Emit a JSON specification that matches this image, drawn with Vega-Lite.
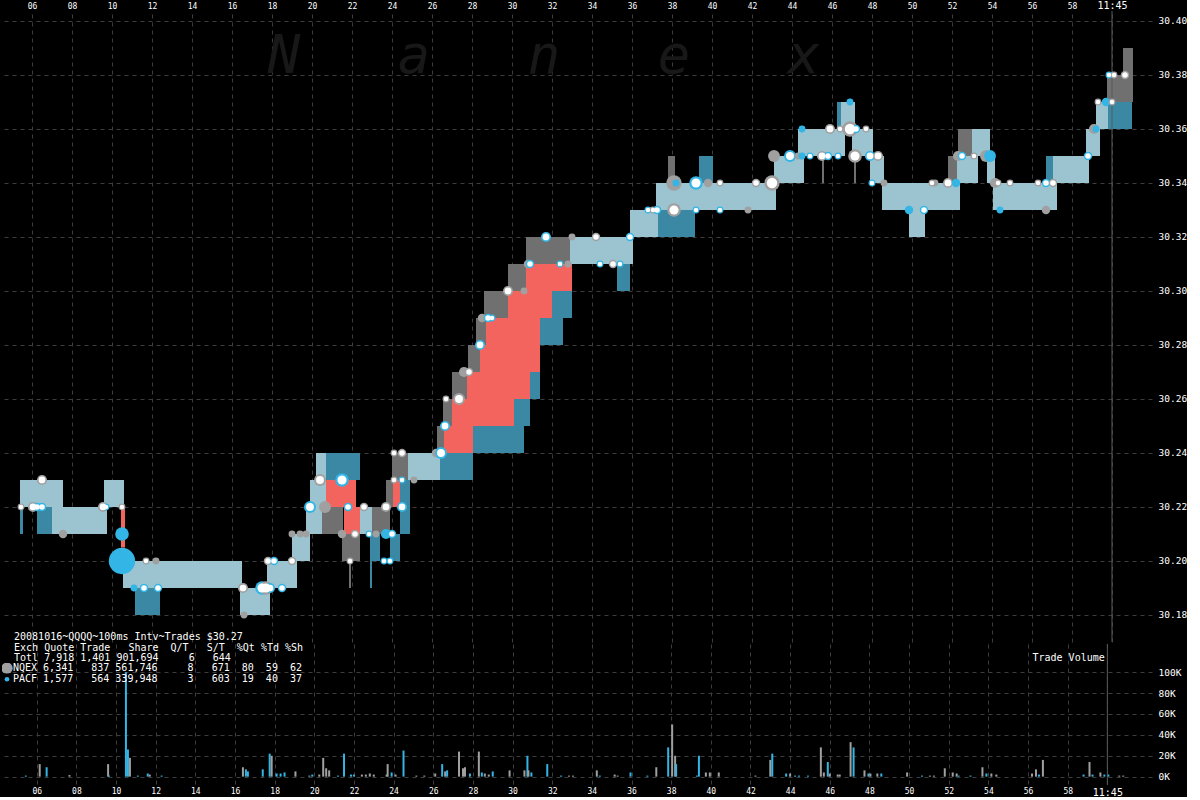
{
"$schema": "https://vega.github.io/schema/vega-lite/v6.json",
"background": "#000000",
"padding": 0,
"spacing": 0,
"config": {
 "view": {"stroke": null},
 "concat": {"spacing": 0},
 "axis": {"domain": false, "ticks": false, "tickSize": 0, "labelColor": "#ffffff", "labelFont": "DejaVu Sans Mono", "labelFontSize": 9, "gridColor": "#3d3d3d", "gridDash": [4, 4], "gridWidth": 1, "labelOverlap": false, "labelFlush": false},
 "legend": {"orient": "none", "legendX": 2, "legendY": 621, "padding": 0,
   "titleAnchor": "start", "titleFont": "DejaVu Sans Mono", "titleFontSize": 10, "titleFontWeight": "normal", "titleColor": "#ffffff",
   "titleLineHeight": 10.5, "titlePadding": 0, "titleLimit": 500,
   "labelFont": "DejaVu Sans Mono", "labelFontSize": 10, "labelColor": "#ffffff", "labelOffset": 1, "labelLimit": 500,
   "symbolType": "circle", "symbolSize": 110, "symbolStrokeWidth": 0, "clipHeight": 10.5, "rowPadding": 0}
},
"datasets": {
 "band": [
  {"t0":5.4,"t1":7.55,"lo":30.22,"hi":30.23,"k":"quote"},
  {"t0":5.4,"t1":5.55,"lo":30.21,"hi":30.22,"k":"flickB"},
  {"t0":6.25,"t1":7.0,"lo":30.21,"hi":30.22,"k":"flickB"},
  {"t0":7.0,"t1":9.75,"lo":30.21,"hi":30.22,"k":"quote"},
  {"t0":9.6,"t1":10.6,"lo":30.22,"hi":30.23,"k":"quote"},
  {"t0":10.45,"t1":10.65,"lo":30.205,"hi":30.22,"k":"crossed"},
  {"t0":10.55,"t1":16.5,"lo":30.19,"hi":30.20,"k":"quote"},
  {"t0":11.15,"t1":12.4,"lo":30.18,"hi":30.19,"k":"flickB"},
  {"t0":16.4,"t1":17.9,"lo":30.18,"hi":30.19,"k":"quote"},
  {"t0":17.75,"t1":19.25,"lo":30.19,"hi":30.20,"k":"quote"},
  {"t0":19.0,"t1":19.9,"lo":30.20,"hi":30.21,"k":"quote"},
  {"t0":19.7,"t1":20.5,"lo":30.21,"hi":30.22,"k":"quote"},
  {"t0":19.9,"t1":20.7,"lo":30.22,"hi":30.23,"k":"quote"},
  {"t0":20.2,"t1":20.7,"lo":30.23,"hi":30.24,"k":"quote"},
  {"t0":20.7,"t1":22.4,"lo":30.23,"hi":30.24,"k":"flickB"},
  {"t0":20.7,"t1":22.2,"lo":30.22,"hi":30.23,"k":"crossed"},
  {"t0":20.5,"t1":21.55,"lo":30.21,"hi":30.22,"k":"flickN"},
  {"t0":21.6,"t1":22.4,"lo":30.21,"hi":30.22,"k":"crossed"},
  {"t0":21.5,"t1":22.4,"lo":30.20,"hi":30.21,"k":"flickN"},
  {"t0":21.85,"t1":21.95,"lo":30.19,"hi":30.20,"k":"flickN"},
  {"t0":22.4,"t1":23.0,"lo":30.21,"hi":30.22,"k":"quote"},
  {"t0":23.0,"t1":23.9,"lo":30.21,"hi":30.22,"k":"flickN"},
  {"t0":22.9,"t1":23.4,"lo":30.20,"hi":30.21,"k":"flickB"},
  {"t0":22.9,"t1":23.0,"lo":30.19,"hi":30.20,"k":"flickB"},
  {"t0":23.7,"t1":24.05,"lo":30.22,"hi":30.23,"k":"flickN"},
  {"t0":24.05,"t1":24.4,"lo":30.22,"hi":30.23,"k":"crossed"},
  {"t0":24.4,"t1":24.9,"lo":30.21,"hi":30.23,"k":"flickB"},
  {"t0":23.9,"t1":24.4,"lo":30.20,"hi":30.21,"k":"flickB"},
  {"t0":24.0,"t1":24.8,"lo":30.23,"hi":30.24,"k":"flickN"},
  {"t0":24.8,"t1":26.4,"lo":30.23,"hi":30.24,"k":"quote"},
  {"t0":26.4,"t1":28.05,"lo":30.23,"hi":30.24,"k":"flickB"},
  {"t0":26.25,"t1":26.6,"lo":30.24,"hi":30.25,"k":"flickN"},
  {"t0":26.6,"t1":28.05,"lo":30.24,"hi":30.25,"k":"crossed"},
  {"t0":28.05,"t1":30.6,"lo":30.24,"hi":30.25,"k":"flickB"},
  {"t0":26.55,"t1":27.0,"lo":30.25,"hi":30.26,"k":"flickN"},
  {"t0":27.0,"t1":30.1,"lo":30.25,"hi":30.26,"k":"crossed"},
  {"t0":30.1,"t1":30.9,"lo":30.25,"hi":30.26,"k":"flickB"},
  {"t0":27.0,"t1":27.75,"lo":30.26,"hi":30.27,"k":"flickN"},
  {"t0":27.75,"t1":30.9,"lo":30.26,"hi":30.27,"k":"crossed"},
  {"t0":30.9,"t1":31.4,"lo":30.26,"hi":30.27,"k":"flickB"},
  {"t0":27.8,"t1":28.4,"lo":30.27,"hi":30.28,"k":"flickN"},
  {"t0":28.4,"t1":31.4,"lo":30.27,"hi":30.28,"k":"crossed"},
  {"t0":28.2,"t1":28.7,"lo":30.28,"hi":30.29,"k":"flickN"},
  {"t0":28.7,"t1":31.4,"lo":30.28,"hi":30.29,"k":"crossed"},
  {"t0":31.4,"t1":32.55,"lo":30.28,"hi":30.29,"k":"flickB"},
  {"t0":28.6,"t1":29.8,"lo":30.29,"hi":30.30,"k":"flickN"},
  {"t0":29.8,"t1":32.0,"lo":30.29,"hi":30.30,"k":"crossed"},
  {"t0":32.0,"t1":33.0,"lo":30.29,"hi":30.30,"k":"flickB"},
  {"t0":29.8,"t1":30.7,"lo":30.30,"hi":30.31,"k":"flickN"},
  {"t0":30.7,"t1":33.0,"lo":30.30,"hi":30.31,"k":"crossed"},
  {"t0":30.7,"t1":32.9,"lo":30.31,"hi":30.32,"k":"flickN"},
  {"t0":32.9,"t1":36.05,"lo":30.31,"hi":30.32,"k":"quote"},
  {"t0":35.25,"t1":35.9,"lo":30.30,"hi":30.31,"k":"flickB"},
  {"t0":35.9,"t1":37.3,"lo":30.32,"hi":30.33,"k":"quote"},
  {"t0":37.3,"t1":39.15,"lo":30.32,"hi":30.33,"k":"flickB"},
  {"t0":37.2,"t1":43.2,"lo":30.33,"hi":30.34,"k":"quote"},
  {"t0":37.8,"t1":38.15,"lo":30.34,"hi":30.35,"k":"flickN"},
  {"t0":39.35,"t1":40.05,"lo":30.34,"hi":30.35,"k":"flickB"},
  {"t0":43.1,"t1":44.6,"lo":30.34,"hi":30.35,"k":"quote"},
  {"t0":44.3,"t1":46.65,"lo":30.35,"hi":30.36,"k":"quote"},
  {"t0":45.5,"t1":45.6,"lo":30.34,"hi":30.35,"k":"flickN"},
  {"t0":46.25,"t1":46.45,"lo":30.36,"hi":30.37,"k":"flickB"},
  {"t0":46.45,"t1":47.15,"lo":30.36,"hi":30.37,"k":"quote"},
  {"t0":47.0,"t1":48.05,"lo":30.35,"hi":30.36,"k":"quote"},
  {"t0":47.1,"t1":47.2,"lo":30.34,"hi":30.35,"k":"flickN"},
  {"t0":47.9,"t1":48.6,"lo":30.34,"hi":30.35,"k":"quote"},
  {"t0":48.5,"t1":52.4,"lo":30.33,"hi":30.34,"k":"quote"},
  {"t0":49.85,"t1":50.65,"lo":30.32,"hi":30.33,"k":"quote"},
  {"t0":51.8,"t1":52.25,"lo":30.34,"hi":30.35,"k":"flickN"},
  {"t0":52.25,"t1":53.3,"lo":30.34,"hi":30.35,"k":"quote"},
  {"t0":52.3,"t1":53.0,"lo":30.35,"hi":30.36,"k":"flickN"},
  {"t0":53.0,"t1":53.9,"lo":30.35,"hi":30.36,"k":"quote"},
  {"t0":53.75,"t1":54.15,"lo":30.34,"hi":30.35,"k":"quote"},
  {"t0":54.05,"t1":57.25,"lo":30.33,"hi":30.34,"k":"quote"},
  {"t0":56.7,"t1":57.05,"lo":30.34,"hi":30.35,"k":"flickB"},
  {"t0":57.05,"t1":58.85,"lo":30.34,"hi":30.35,"k":"quote"},
  {"t0":58.7,"t1":59.4,"lo":30.35,"hi":30.36,"k":"quote"},
  {"t0":59.2,"t1":59.8,"lo":30.36,"hi":30.37,"k":"quote"},
  {"t0":59.8,"t1":61.0,"lo":30.36,"hi":30.37,"k":"flickB"},
  {"t0":59.75,"t1":61.05,"lo":30.37,"hi":30.38,"k":"flickN"},
  {"t0":60.55,"t1":61.05,"lo":30.38,"hi":30.39,"k":"flickN"}
 ],
 "trades": [
  {"t":10.5,"p":30.20,"ex":"PACF","sh":99000,"k":"solid"},
  {"t":5.45,"p":30.22,"ex":"NQEX","sh":2000,"k":"ring"},
  {"t":6.5,"p":30.23,"ex":"NQEX","sh":10300,"k":"ring"},
  {"t":6.05,"p":30.22,"ex":"NQEX","sh":10300,"k":"ring"},
  {"t":6.25,"p":30.22,"ex":"PACF","sh":5600,"k":"ring"},
  {"t":6.5,"p":30.22,"ex":"PACF","sh":5600,"k":"ring"},
  {"t":7.55,"p":30.21,"ex":"NQEX","sh":5600,"k":"solid"},
  {"t":9.55,"p":30.22,"ex":"NQEX","sh":10300,"k":"ring"},
  {"t":9.7,"p":30.22,"ex":"PACF","sh":2000,"k":"ring"},
  {"t":10.5,"p":30.22,"ex":"NQEX","sh":2000,"k":"ring"},
  {"t":10.5,"p":30.21,"ex":"PACF","sh":22800,"k":"solid"},
  {"t":11.7,"p":30.20,"ex":"NQEX","sh":2000,"k":"ring"},
  {"t":12.2,"p":30.20,"ex":"NQEX","sh":2000,"k":"solid"},
  {"t":11.1,"p":30.19,"ex":"PACF","sh":2000,"k":"solid"},
  {"t":11.6,"p":30.19,"ex":"PACF","sh":5600,"k":"ring"},
  {"t":12.3,"p":30.19,"ex":"PACF","sh":5600,"k":"ring"},
  {"t":16.55,"p":30.19,"ex":"NQEX","sh":10300,"k":"ring"},
  {"t":16.6,"p":30.18,"ex":"NQEX","sh":2000,"k":"solid"},
  {"t":17.5,"p":30.19,"ex":"PACF","sh":22800,"k":"ring"},
  {"t":17.7,"p":30.19,"ex":"NQEX","sh":22800,"k":"ring"},
  {"t":17.9,"p":30.19,"ex":"PACF","sh":10300,"k":"ring"},
  {"t":18.5,"p":30.19,"ex":"PACF","sh":5600,"k":"ring"},
  {"t":17.8,"p":30.20,"ex":"NQEX","sh":5600,"k":"ring"},
  {"t":18.1,"p":30.20,"ex":"PACF","sh":5600,"k":"ring"},
  {"t":19.0,"p":30.20,"ex":"NQEX","sh":5600,"k":"ring"},
  {"t":19.0,"p":30.21,"ex":"NQEX","sh":2000,"k":"solid"},
  {"t":19.4,"p":30.21,"ex":"NQEX","sh":2000,"k":"solid"},
  {"t":19.7,"p":30.21,"ex":"NQEX","sh":2000,"k":"solid"},
  {"t":19.9,"p":30.22,"ex":"PACF","sh":16000,"k":"ring"},
  {"t":20.4,"p":30.23,"ex":"NQEX","sh":16000,"k":"ring"},
  {"t":21.5,"p":30.23,"ex":"PACF","sh":22800,"k":"ring"},
  {"t":20.65,"p":30.22,"ex":"NQEX","sh":16000,"k":"solid"},
  {"t":21.8,"p":30.22,"ex":"PACF","sh":5600,"k":"ring"},
  {"t":22.6,"p":30.22,"ex":"NQEX","sh":5600,"k":"ring"},
  {"t":21.5,"p":30.21,"ex":"NQEX","sh":5600,"k":"solid"},
  {"t":22.15,"p":30.21,"ex":"NQEX","sh":5600,"k":"ring"},
  {"t":22.85,"p":30.21,"ex":"PACF","sh":2000,"k":"ring"},
  {"t":23.2,"p":30.21,"ex":"NQEX","sh":2000,"k":"solid"},
  {"t":21.9,"p":30.20,"ex":"NQEX","sh":2000,"k":"ring"},
  {"t":23.7,"p":30.21,"ex":"PACF","sh":10300,"k":"solid"},
  {"t":24.0,"p":30.21,"ex":"PACF","sh":5600,"k":"ring"},
  {"t":23.6,"p":30.20,"ex":"PACF","sh":2000,"k":"ring"},
  {"t":23.9,"p":30.20,"ex":"PACF","sh":2000,"k":"ring"},
  {"t":23.7,"p":30.22,"ex":"NQEX","sh":10300,"k":"ring"},
  {"t":24.5,"p":30.22,"ex":"PACF","sh":10300,"k":"ring"},
  {"t":24.1,"p":30.23,"ex":"NQEX","sh":2000,"k":"ring"},
  {"t":24.5,"p":30.23,"ex":"PACF","sh":2000,"k":"ring"},
  {"t":25.1,"p":30.23,"ex":"NQEX","sh":2000,"k":"solid"},
  {"t":24.1,"p":30.24,"ex":"NQEX","sh":2000,"k":"ring"},
  {"t":24.5,"p":30.24,"ex":"NQEX","sh":5600,"k":"ring"},
  {"t":26.2,"p":30.24,"ex":"NQEX","sh":5600,"k":"solid"},
  {"t":26.45,"p":30.24,"ex":"PACF","sh":16000,"k":"ring"},
  {"t":26.65,"p":30.25,"ex":"PACF","sh":10300,"k":"ring"},
  {"t":26.7,"p":30.26,"ex":"NQEX","sh":2000,"k":"ring"},
  {"t":27.35,"p":30.26,"ex":"NQEX","sh":16000,"k":"ring"},
  {"t":27.6,"p":30.27,"ex":"NQEX","sh":10300,"k":"solid"},
  {"t":27.85,"p":30.27,"ex":"NQEX","sh":5600,"k":"ring"},
  {"t":28.4,"p":30.28,"ex":"PACF","sh":10300,"k":"ring"},
  {"t":28.5,"p":30.29,"ex":"NQEX","sh":5600,"k":"solid"},
  {"t":28.8,"p":30.29,"ex":"PACF","sh":5600,"k":"ring"},
  {"t":29.0,"p":30.29,"ex":"PACF","sh":2000,"k":"ring"},
  {"t":29.8,"p":30.30,"ex":"NQEX","sh":10300,"k":"ring"},
  {"t":30.6,"p":30.30,"ex":"NQEX","sh":2000,"k":"solid"},
  {"t":30.8,"p":30.31,"ex":"NQEX","sh":5600,"k":"solid"},
  {"t":30.9,"p":30.31,"ex":"PACF","sh":5600,"k":"ring"},
  {"t":32.4,"p":30.31,"ex":"PACF","sh":2000,"k":"ring"},
  {"t":32.8,"p":30.31,"ex":"NQEX","sh":2000,"k":"solid"},
  {"t":31.7,"p":30.32,"ex":"PACF","sh":10300,"k":"ring"},
  {"t":33.0,"p":30.32,"ex":"NQEX","sh":2000,"k":"solid"},
  {"t":34.2,"p":30.32,"ex":"NQEX","sh":5600,"k":"ring"},
  {"t":34.4,"p":30.31,"ex":"PACF","sh":2000,"k":"ring"},
  {"t":35.05,"p":30.31,"ex":"NQEX","sh":5600,"k":"ring"},
  {"t":35.4,"p":30.31,"ex":"PACF","sh":2000,"k":"ring"},
  {"t":35.9,"p":30.32,"ex":"PACF","sh":5600,"k":"ring"},
  {"t":36.8,"p":30.33,"ex":"PACF","sh":2000,"k":"ring"},
  {"t":37.05,"p":30.33,"ex":"NQEX","sh":2000,"k":"ring"},
  {"t":37.25,"p":30.33,"ex":"PACF","sh":5600,"k":"ring"},
  {"t":38.1,"p":30.33,"ex":"NQEX","sh":22800,"k":"ring"},
  {"t":38.1,"p":30.34,"ex":"NQEX","sh":30600,"k":"solid"},
  {"t":38.2,"p":30.34,"ex":"PACF","sh":2000,"k":"solid"},
  {"t":39.2,"p":30.34,"ex":"PACF","sh":22800,"k":"ring"},
  {"t":39.8,"p":30.34,"ex":"NQEX","sh":5600,"k":"solid"},
  {"t":40.4,"p":30.34,"ex":"NQEX","sh":2000,"k":"ring"},
  {"t":39.2,"p":30.33,"ex":"PACF","sh":2000,"k":"ring"},
  {"t":40.4,"p":30.33,"ex":"PACF","sh":2000,"k":"ring"},
  {"t":41.8,"p":30.33,"ex":"NQEX","sh":2000,"k":"solid"},
  {"t":42.2,"p":30.34,"ex":"NQEX","sh":5600,"k":"ring"},
  {"t":43.0,"p":30.34,"ex":"NQEX","sh":30600,"k":"ring"},
  {"t":43.1,"p":30.35,"ex":"NQEX","sh":16000,"k":"solid"},
  {"t":43.9,"p":30.35,"ex":"PACF","sh":16000,"k":"ring"},
  {"t":44.3,"p":30.35,"ex":"NQEX","sh":2000,"k":"solid"},
  {"t":44.5,"p":30.35,"ex":"PACF","sh":2000,"k":"solid"},
  {"t":44.9,"p":30.35,"ex":"PACF","sh":2000,"k":"ring"},
  {"t":45.5,"p":30.35,"ex":"NQEX","sh":10300,"k":"ring"},
  {"t":45.8,"p":30.35,"ex":"PACF","sh":5600,"k":"ring"},
  {"t":46.3,"p":30.35,"ex":"PACF","sh":2000,"k":"ring"},
  {"t":44.5,"p":30.36,"ex":"PACF","sh":2000,"k":"solid"},
  {"t":45.9,"p":30.36,"ex":"NQEX","sh":10300,"k":"ring"},
  {"t":46.4,"p":30.36,"ex":"NQEX","sh":2000,"k":"ring"},
  {"t":46.9,"p":30.36,"ex":"NQEX","sh":30600,"k":"ring"},
  {"t":47.2,"p":30.36,"ex":"PACF","sh":5600,"k":"ring"},
  {"t":47.7,"p":30.36,"ex":"NQEX","sh":2000,"k":"ring"},
  {"t":46.9,"p":30.37,"ex":"PACF","sh":2000,"k":"solid"},
  {"t":47.15,"p":30.35,"ex":"NQEX","sh":22800,"k":"ring"},
  {"t":47.9,"p":30.35,"ex":"PACF","sh":10300,"k":"ring"},
  {"t":48.3,"p":30.35,"ex":"NQEX","sh":10300,"k":"ring"},
  {"t":48.0,"p":30.34,"ex":"PACF","sh":2000,"k":"ring"},
  {"t":48.6,"p":30.34,"ex":"NQEX","sh":2000,"k":"solid"},
  {"t":49.85,"p":30.33,"ex":"PACF","sh":5600,"k":"solid"},
  {"t":50.6,"p":30.33,"ex":"PACF","sh":5600,"k":"ring"},
  {"t":51.0,"p":30.34,"ex":"NQEX","sh":2000,"k":"ring"},
  {"t":51.15,"p":30.34,"ex":"NQEX","sh":2000,"k":"solid"},
  {"t":51.8,"p":30.34,"ex":"NQEX","sh":10300,"k":"ring"},
  {"t":52.2,"p":30.34,"ex":"PACF","sh":5600,"k":"solid"},
  {"t":52.3,"p":30.35,"ex":"NQEX","sh":10300,"k":"solid"},
  {"t":52.5,"p":30.35,"ex":"PACF","sh":5600,"k":"ring"},
  {"t":53.1,"p":30.35,"ex":"NQEX","sh":2000,"k":"ring"},
  {"t":53.7,"p":30.35,"ex":"NQEX","sh":16000,"k":"solid"},
  {"t":53.9,"p":30.35,"ex":"PACF","sh":16000,"k":"solid"},
  {"t":54.15,"p":30.34,"ex":"NQEX","sh":10300,"k":"solid"},
  {"t":54.3,"p":30.34,"ex":"NQEX","sh":2000,"k":"ring"},
  {"t":54.9,"p":30.34,"ex":"NQEX","sh":2000,"k":"ring"},
  {"t":54.4,"p":30.33,"ex":"PACF","sh":2000,"k":"solid"},
  {"t":56.3,"p":30.34,"ex":"NQEX","sh":2000,"k":"ring"},
  {"t":56.7,"p":30.34,"ex":"PACF","sh":5600,"k":"ring"},
  {"t":57.05,"p":30.34,"ex":"NQEX","sh":5600,"k":"ring"},
  {"t":56.7,"p":30.33,"ex":"NQEX","sh":5600,"k":"solid"},
  {"t":58.8,"p":30.35,"ex":"PACF","sh":5600,"k":"ring"},
  {"t":59.1,"p":30.36,"ex":"NQEX","sh":10300,"k":"solid"},
  {"t":59.2,"p":30.36,"ex":"PACF","sh":2000,"k":"solid"},
  {"t":59.3,"p":30.37,"ex":"NQEX","sh":2000,"k":"ring"},
  {"t":59.7,"p":30.37,"ex":"PACF","sh":5600,"k":"solid"},
  {"t":60.0,"p":30.37,"ex":"NQEX","sh":2000,"k":"ring"},
  {"t":59.85,"p":30.38,"ex":"PACF","sh":2000,"k":"ring"},
  {"t":60.1,"p":30.38,"ex":"NQEX","sh":2000,"k":"ring"},
  {"t":60.65,"p":30.38,"ex":"NQEX","sh":5600,"k":"ring"}
 ],
 "volume": [
  {"t":5.45,"ex":"PACF","v":1000},{"t":6.15,"ex":"NQEX","v":12000},{"t":6.5,"ex":"PACF","v":9000},{"t":7.65,"ex":"NQEX","v":1500},
  {"t":9.6,"ex":"NQEX","v":12000},{"t":9.65,"ex":"PACF","v":1000},{"t":10.5,"ex":"PACF","v":100000},{"t":10.6,"ex":"PACF","v":26000},
  {"t":10.7,"ex":"NQEX","v":18000},{"t":11.1,"ex":"PACF","v":1000},{"t":11.6,"ex":"PACF","v":3000},{"t":11.7,"ex":"NQEX","v":2000},
  {"t":12.3,"ex":"PACF","v":1000},{"t":16.4,"ex":"NQEX","v":9000},{"t":16.55,"ex":"PACF","v":7000},{"t":16.65,"ex":"PACF","v":5000},
  {"t":17.4,"ex":"PACF","v":7000},{"t":17.75,"ex":"PACF","v":22000},{"t":17.85,"ex":"NQEX","v":20000},{"t":18.1,"ex":"PACF","v":3000},
  {"t":18.3,"ex":"PACF","v":3000},{"t":18.5,"ex":"PACF","v":4000},{"t":19.05,"ex":"NQEX","v":5000},{"t":19.75,"ex":"NQEX","v":1000},
  {"t":19.9,"ex":"PACF","v":2000},{"t":20.25,"ex":"NQEX","v":2000},{"t":20.45,"ex":"NQEX","v":18000},{"t":20.6,"ex":"NQEX","v":8000},
  {"t":20.75,"ex":"NQEX","v":6000},{"t":21.2,"ex":"PACF","v":1000},{"t":21.5,"ex":"PACF","v":22000},{"t":21.85,"ex":"PACF","v":2000},
  {"t":22.0,"ex":"PACF","v":2000},{"t":22.4,"ex":"NQEX","v":2000},{"t":22.6,"ex":"NQEX","v":2000},{"t":22.8,"ex":"NQEX","v":3000},
  {"t":23.0,"ex":"NQEX","v":2000},{"t":23.65,"ex":"NQEX","v":2000},{"t":23.7,"ex":"NQEX","v":12000},{"t":23.9,"ex":"PACF","v":4000},
  {"t":24.1,"ex":"NQEX","v":2000},{"t":24.5,"ex":"PACF","v":25000},{"t":25.15,"ex":"NQEX","v":1000},{"t":25.55,"ex":"NQEX","v":1000},
  {"t":26.1,"ex":"NQEX","v":3000},{"t":26.45,"ex":"PACF","v":12000},{"t":26.6,"ex":"NQEX","v":5000},{"t":26.7,"ex":"PACF","v":6000},
  {"t":27.3,"ex":"NQEX","v":24000},{"t":27.5,"ex":"NQEX","v":8000},{"t":27.6,"ex":"NQEX","v":9000},{"t":27.85,"ex":"PACF","v":3000},
  {"t":28.3,"ex":"NQEX","v":24000},{"t":28.45,"ex":"PACF","v":4000},{"t":28.6,"ex":"NQEX","v":3000},{"t":28.8,"ex":"NQEX","v":2000},
  {"t":29.0,"ex":"PACF","v":5000},{"t":29.85,"ex":"NQEX","v":6000},{"t":30.6,"ex":"NQEX","v":6000},{"t":30.75,"ex":"PACF","v":20000},
  {"t":30.8,"ex":"NQEX","v":6000},{"t":30.95,"ex":"PACF","v":4000},{"t":31.75,"ex":"PACF","v":12000},{"t":32.45,"ex":"PACF","v":1000},
  {"t":32.85,"ex":"NQEX","v":1000},{"t":33.05,"ex":"NQEX","v":1000},{"t":34.25,"ex":"NQEX","v":6000},{"t":34.4,"ex":"PACF","v":1000},
  {"t":35.15,"ex":"NQEX","v":2000},{"t":35.3,"ex":"NQEX","v":1000},{"t":35.95,"ex":"PACF","v":4000},{"t":36.8,"ex":"PACF","v":1000},
  {"t":37.25,"ex":"NQEX","v":9000},{"t":37.85,"ex":"PACF","v":28000},{"t":38.05,"ex":"NQEX","v":50000},{"t":38.2,"ex":"NQEX","v":20000},
  {"t":38.25,"ex":"PACF","v":12000},{"t":39.3,"ex":"PACF","v":1000},{"t":39.4,"ex":"PACF","v":20000},{"t":39.75,"ex":"NQEX","v":4000},
  {"t":39.95,"ex":"NQEX","v":4000},{"t":40.4,"ex":"NQEX","v":4000},{"t":42.25,"ex":"NQEX","v":1000},{"t":43.0,"ex":"NQEX","v":16000},
  {"t":43.1,"ex":"PACF","v":22000},{"t":43.8,"ex":"PACF","v":3000},{"t":44.0,"ex":"NQEX","v":3000},{"t":44.25,"ex":"PACF","v":1000},
  {"t":44.45,"ex":"PACF","v":1000},{"t":44.9,"ex":"PACF","v":1000},{"t":45.55,"ex":"NQEX","v":28000},{"t":45.7,"ex":"NQEX","v":4000},
  {"t":45.9,"ex":"PACF","v":14000},{"t":46.0,"ex":"NQEX","v":3000},{"t":46.4,"ex":"NQEX","v":2000},{"t":46.5,"ex":"NQEX","v":2000},
  {"t":47.05,"ex":"NQEX","v":33000},{"t":47.2,"ex":"PACF","v":28000},{"t":47.75,"ex":"NQEX","v":6000},{"t":47.95,"ex":"PACF","v":3000},
  {"t":48.05,"ex":"NQEX","v":3000},{"t":48.4,"ex":"NQEX","v":3000},{"t":48.6,"ex":"PACF","v":3000},{"t":49.9,"ex":"NQEX","v":4000},
  {"t":50.65,"ex":"PACF","v":1000},{"t":51.05,"ex":"NQEX","v":1000},{"t":51.25,"ex":"NQEX","v":1000},{"t":51.8,"ex":"NQEX","v":8000},
  {"t":52.2,"ex":"NQEX","v":4000},{"t":52.4,"ex":"NQEX","v":3000},{"t":52.5,"ex":"PACF","v":1000},{"t":53.1,"ex":"PACF","v":1000},
  {"t":53.7,"ex":"NQEX","v":9000},{"t":53.9,"ex":"PACF","v":3000},{"t":54.15,"ex":"NQEX","v":3000},{"t":54.4,"ex":"NQEX","v":2000},
  {"t":56.2,"ex":"NQEX","v":3000},{"t":56.4,"ex":"NQEX","v":7000},{"t":56.55,"ex":"PACF","v":2000},{"t":56.75,"ex":"NQEX","v":16000},
  {"t":58.8,"ex":"PACF","v":2000},{"t":59.1,"ex":"NQEX","v":14000},{"t":59.25,"ex":"PACF","v":2000},{"t":59.65,"ex":"NQEX","v":4000},
  {"t":59.85,"ex":"PACF","v":2000},{"t":60.05,"ex":"PACF","v":2000},{"t":60.6,"ex":"NQEX","v":1000},{"t":60.8,"ex":"NQEX","v":1000}
 ]
},
"vconcat": [
 {
  "width": 1152,
  "height": 631,
  "resolve": {"scale": {"size": "independent"}},
  "layer": [
   {
    "data": {"name": "band"},
    "mark": {"type": "rect"},
    "encoding": {
     "x": {"field": "t0", "type": "quantitative", "title": null,
      "scale": {"domain": [4.4, 62.0], "nice": false, "zero": false},
      "axis": {"orient": "top", "values": [6,8,10,12,14,16,18,20,22,24,26,28,30,32,34,36,38,40,42,44,46,48,50,52,54,56,58,60],
       "labelExpr": "datum.value == 60 ? '11:45' : (datum.value < 10 ? '0' + datum.value : '' + datum.value)",
       "labelFontSize": {"condition": {"test": "datum.value == 60", "value": 10}, "value": 8},
       "labelPadding": 1, "grid": true}},
     "x2": {"field": "t1"},
     "y": {"field": "lo", "type": "quantitative", "title": null,
      "scale": {"domain": [30.17, 30.4037], "nice": false, "zero": false},
      "axis": {"orient": "right", "values": [30.18,30.20,30.22,30.24,30.26,30.28,30.30,30.32,30.34,30.36,30.38,30.40],
       "format": ".2f", "labelPadding": 6, "labelFontSize": 9.5, "grid": true}},
     "y2": {"field": "hi"},
     "fill": {"field": "k", "type": "nominal", "legend": null,
      "scale": {"domain": ["quote", "crossed", "flickN", "flickB"], "range": ["#9cc4d0", "#f4645f", "#707070", "#3a88a4"]}}
    }
   },
   {
    "data": {"values": [{}]},
    "mark": {"type": "text", "text": "N\u00a0\u00a0\u00a0a\u00a0\u00a0\u00a0n\u00a0\u00a0\u00a0e\u00a0\u00a0\u00a0x", "font": "DejaVu Sans Mono", "fontStyle": "italic", "fontSize": 54, "color": "#181818", "align": "center", "baseline": "alphabetic"},
    "encoding": {
     "x": {"datum": 31.6, "type": "quantitative", "title": null},
     "y": {"datum": 30.3807, "type": "quantitative", "title": null}
    }
   },
   {
    "data": {"values": [{}]},
    "mark": {"type": "rule", "color": "#5a5a5a", "strokeWidth": 1},
    "encoding": {"x": {"datum": 60, "type": "quantitative", "title": null}}
   },
   {
    "data": {"name": "trades"},
    "mark": {"type": "point", "filled": true, "shape": "circle", "opacity": 1, "strokeWidth": 0},
    "encoding": {
     "x": {"field": "t", "type": "quantitative", "title": null},
     "y": {"field": "p", "type": "quantitative", "title": null},
     "color": {"field": "ex", "type": "nominal",
      "scale": {"domain": ["NQEX", "PACF"], "range": ["#a0a0a0", "#33b5e5"]},
      "legend": {
       "title": ["\u200b\u00a0\u00a020081016~QQQQ~100ms\u00a0Intv~Trades\u00a0$30.27",
                 "\u200b\u00a0\u00a0Exch\u00a0Quote\u00a0Trade\u00a0\u00a0\u00a0Share\u00a0\u00a0Q/T\u00a0\u00a0\u00a0S/T\u00a0\u00a0%Qt\u00a0%Td\u00a0%Sh",
                 "\u200b\u00a0\u00a0Totl\u00a07,918\u00a01,401\u00a0901,694\u00a0\u00a0\u00a0\u00a0\u00a06\u00a0\u00a0\u00a0644"],
       "labelExpr": "datum.label == 'NQEX' ? 'NQEX\u00a06,341\u00a0\u00a0\u00a0837\u00a0561,746\u00a0\u00a0\u00a0\u00a0\u00a08\u00a0\u00a0\u00a0671\u00a0\u00a080\u00a0\u00a059\u00a0\u00a062' : 'PACF\u00a01,577\u00a0\u00a0\u00a0564\u00a0339,948\u00a0\u00a0\u00a0\u00a0\u00a03\u00a0\u00a0\u00a0603\u00a0\u00a019\u00a0\u00a040\u00a0\u00a037'",
       "encode": {"symbols": {"update": {"size": {"signal": "datum.value == 'NQEX' ? 130 : 22"}}}}}},
     "size": {"field": "sh", "type": "quantitative", "legend": null,
      "scale": {"domain": [0, 100000], "range": [34, 700]}}
    }
   },
   {
    "data": {"name": "trades"},
    "transform": [{"filter": "datum.k == 'ring'"}],
    "mark": {"type": "circle", "color": "#ffffff", "opacity": 1},
    "encoding": {
     "x": {"field": "t", "type": "quantitative", "title": null},
     "y": {"field": "p", "type": "quantitative", "title": null},
     "size": {"field": "sh", "type": "quantitative", "legend": null,
      "scale": {"domain": [0, 100000], "range": [14, 320]}}
    }
   }
  ]
 },
 {
  "width": 1152,
  "height": 141,
  "layer": [
   {
    "data": {"name": "volume"},
    "mark": {"type": "bar", "width": 2},
    "encoding": {
     "x": {"field": "t", "type": "quantitative", "title": null,
      "scale": {"domain": [4.4, 62.0], "nice": false, "zero": false},
      "axis": {"orient": "bottom", "values": [6,8,10,12,14,16,18,20,22,24,26,28,30,32,34,36,38,40,42,44,46,48,50,52,54,56,58,60],
       "labelExpr": "datum.value == 60 ? '11:45' : (datum.value < 10 ? '0' + datum.value : '' + datum.value)",
       "labelFontSize": {"condition": {"test": "datum.value == 60", "value": 10}, "value": 8},
       "labelPadding": 2, "grid": true}},
     "y": {"field": "v", "type": "quantitative", "title": "Trade Volume",
      "scale": {"domain": [-8000, 127000], "nice": false, "zero": false},
      "axis": {"orient": "right", "values": [0, 20000, 40000, 60000, 80000, 100000],
       "labelExpr": "(datum.value / 1000) + 'K'", "labelPadding": 6, "labelFontSize": 9.5, "grid": true,
       "titleX": -120, "titleY": 13, "titleAngle": 0, "titleAlign": "left", "titleBaseline": "middle",
       "titleFont": "DejaVu Sans Mono", "titleFontSize": 10, "titleFontWeight": "normal", "titleColor": "#ffffff"}},
     "y2": {"datum": 0},
     "color": {"field": "ex", "type": "nominal",
      "scale": {"domain": ["NQEX", "PACF"], "range": ["#a0a0a0", "#33b5e5"]},
      "legend": {
       "title": ["\u200b\u00a0\u00a020081016~QQQQ~100ms\u00a0Intv~Trades\u00a0$30.27",
                 "\u200b\u00a0\u00a0Exch\u00a0Quote\u00a0Trade\u00a0\u00a0\u00a0Share\u00a0\u00a0Q/T\u00a0\u00a0\u00a0S/T\u00a0\u00a0%Qt\u00a0%Td\u00a0%Sh",
                 "\u200b\u00a0\u00a0Totl\u00a07,918\u00a01,401\u00a0901,694\u00a0\u00a0\u00a0\u00a0\u00a06\u00a0\u00a0\u00a0644"],
       "labelExpr": "datum.label == 'NQEX' ? 'NQEX\u00a06,341\u00a0\u00a0\u00a0837\u00a0561,746\u00a0\u00a0\u00a0\u00a0\u00a08\u00a0\u00a0\u00a0671\u00a0\u00a080\u00a0\u00a059\u00a0\u00a062' : 'PACF\u00a01,577\u00a0\u00a0\u00a0564\u00a0339,948\u00a0\u00a0\u00a0\u00a0\u00a03\u00a0\u00a0\u00a0603\u00a0\u00a019\u00a0\u00a040\u00a0\u00a037'",
       "encode": {"symbols": {"update": {"size": {"signal": "datum.value == 'NQEX' ? 130 : 22"}}}}}}
    }
   },
   {
    "data": {"values": [{}]},
    "mark": {"type": "rule", "color": "#5a5a5a", "strokeWidth": 1},
    "encoding": {"x": {"datum": 60, "type": "quantitative", "title": null}}
   }
  ]
 }
]
}
